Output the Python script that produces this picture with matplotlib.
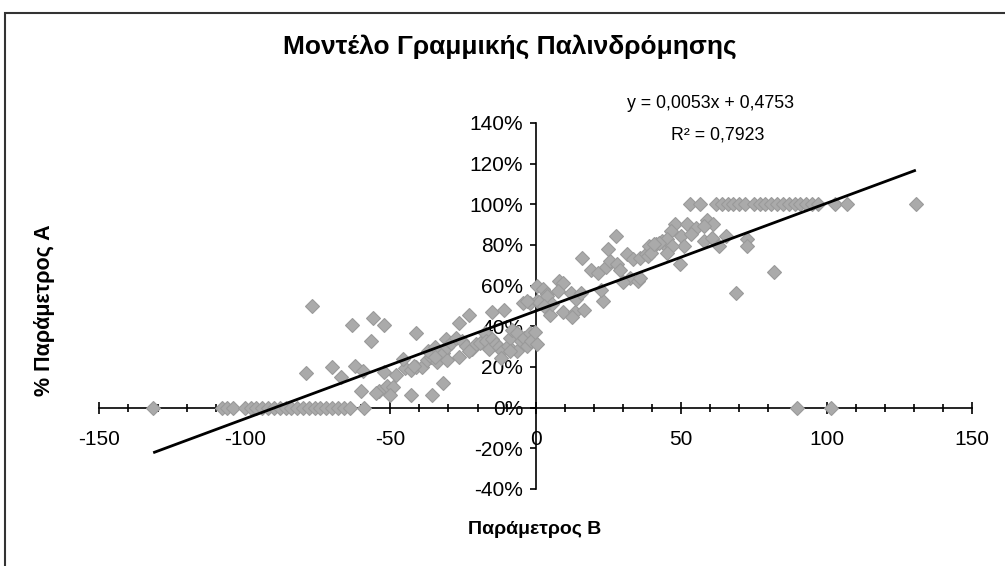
import matplotlib
matplotlib.use("Agg")
import matplotlib.pyplot as plt
from matplotlib.ticker import MultipleLocator, FuncFormatter
from matplotlib.patches import Rectangle

plt.rcParams['font.family'] = ['Liberation Sans', 'DejaVu Sans']
plt.rcParams['axes.unicode_minus'] = False

# points lying on the 0% line
zero_x = [-131.5, -108, -106, -104, -100, -98, -96, -94, -92, -90, -88, -86, -84,
          -82, -80, -78, -76, -74, -72, -70, -68, -66, -64, -59, 90, 101.5]
# points lying on the 100% line
full_x = [53, 56.5, 62, 64, 66, 68, 70, 72, 75, 77, 79, 81, 83, 85, 87, 89, 91,
          93, 95, 97, 103, 107, 130.7]

# the rest of the cloud (x, % of A)
cloud_x = [-77, -63, -56, -52, -56.5, -41, -79, -70, -67, -62, -59.5, -60, -54, -51,
           -49, -50, -43, -35.5, -32, -52, -48, -45, -45.5, -43, -41, -39, -37.5, -36,
           -34, -32, -31, -30.5, -55, -42,
           -37, -34.5, -30.5, -29, -27.5, -25.5, -24, -22, -20.5, -19, -17.5, -17, -16,
           -15, -13.5, -12.5, -11.5, -9.5, -9, -8, -6.5, -6.5, -5, -4, -3, -2, -1.5, 0.5,
           -26.5, -23, -15, -11, -4.5, -2, -26.5, -23, -12, -34.5, -9,
           0.5, 2.5, 4, 5, 8, 9.5, 9.5, 12, 13.5, 12.5, 14, 15.5, 16.5, 7.5, 0.5, 4, 5.5,
           -0.3, 1, 3, -3,
           16, 19, 21.5, 24, 25.5, 28, 29, 31.5, 32.5, 33.5, 36, 38, 39, 41.5, 43.5, 45.5,
           35, 23, 25, 27.5, 22.5, 30, 36, 38.5, 39.5,
           48, 52, 55, 59, 61, 58, 46.5, 45, 42.5, 40.5, 50, 53.5, 51, 47, 45, 58, 60.5,
           63, 65.5, 72.5, 72.5, 49.5, 82, 69]
cloud_y = [50, 40.5, 44, 40.5, 33, 36.5, 17, 20, 15, 20.5, 18, 8, 8, 10.5,
           10, 6, 6, 6, 12, 17.5, 16, 19.5, 24, 18.5, 20, 20, 23.5, 25,
           22.5, 27, 34, 23.5, 7, 20.5,
           28, 30, 30, 32, 34.5, 33, 30.5, 29, 31.5, 32, 36.5, 33, 29,
           34, 31.5, 30, 28, 30.5, 34.5, 38, 36.5, 28, 33, 34.5, 30.5, 36.5, 33, 31.5,
           41.5, 45.5, 47, 48, 51.5, 51.5, 25, 28, 24.5, 25, 28,
           60, 58.5, 56, 45.5, 62.5, 61.5, 47, 56.5, 47, 44.5, 53.5, 56.5, 48, 57.5, 52.5, 55, 51,
           37, 52, 50, 52.5,
           73.5, 67.5, 66, 69, 72, 70.5, 67.5, 75.5, 64, 73, 73.5, 75.5, 79.5, 80.5, 82, 78.5,
           62.5, 52.5, 78, 84.5, 58, 62, 64, 74.5, 76,
           90.5, 90.5, 88.5, 92.5, 90.5, 89.5, 87, 83, 81, 80.5, 84.5, 85.5, 79.5, 79.5, 76, 82, 83.5,
           79.5, 84.5, 83, 79.5, 70.5, 66.5, 56.5]

slope = 0.0053
intercept = 0.4753

xs = zero_x + full_x + cloud_x
ys = [0.0] * len(zero_x) + [1.0] * len(full_x) + [v / 100 for v in cloud_y]

fig = plt.figure(figsize=(10.05, 5.66), dpi=100)
ax = fig.add_axes([99.4 / 1005, 77 / 566, 872.6 / 1005, 366 / 566])
ax.set_facecolor('none')

ax.plot(xs, ys, 'D', ms=6.7, mfc='#aaaaaa', mec='#9a9a9a', mew=0.8, zorder=3,
        clip_on=False)

# trend line over the data range
x0, x1 = min(xs), max(xs)
ax.plot([x0, x1], [slope * x0 + intercept, slope * x1 + intercept], color='black',
        lw=2, zorder=4, solid_capstyle='butt')

ax.set_xlim(-150, 150)
ax.set_ylim(-0.4, 1.4)
ax.spines['left'].set_position(('data', 0))
ax.spines['bottom'].set_position(('data', 0))
ax.spines['top'].set_visible(False)
ax.spines['right'].set_visible(False)
for s in ('left', 'bottom'):
    ax.spines[s].set_linewidth(1.2)

ax.xaxis.set_major_locator(MultipleLocator(50))
ax.xaxis.set_minor_locator(MultipleLocator(10))
ax.yaxis.set_major_locator(MultipleLocator(0.2))
ax.yaxis.set_major_formatter(FuncFormatter(lambda v, _: f"{round(v * 100):d}%"))

ax.tick_params(axis='x', which='major', direction='inout', length=8, width=1.2,
               pad=12, labelsize=15)
ax.tick_params(axis='x', which='minor', direction='inout', length=6, width=1.2)
ax.tick_params(axis='y', which='major', direction='out', length=4, width=1.2,
               pad=5, labelsize=15)

fig.text(510 / 1005, 1 - 47 / 566, 'Μοντέλο Γραμμικής Παλινδρόμησης', ha='center',
         va='center', fontsize=19, fontweight='bold')
fig.text(710 / 1005, 1 - 103 / 566, 'y = 0,0053x + 0,4753', ha='center', va='center',
         fontsize=12.8)
fig.text(718 / 1005, 1 - 135 / 566, 'R² = 0,7923', ha='center', va='center',
         fontsize=12.8)
fig.text(535 / 1005, 1 - 530 / 566, 'Παράμετρος Β', ha='center', va='center',
         fontsize=14, fontweight='bold')
fig.text(45 / 1005, 1 - 310 / 566, '% Παράμετρος Α', ha='center', va='center',
         rotation=90, fontsize=15.5, fontweight='bold')

# chart border (only top and left edges are inside the picture)
fig.patches.append(Rectangle((5 / 1005, -0.1), 1.2, 1.1 - 13 / 566,
                             transform=fig.transFigure, fill=False,
                             edgecolor='#333333', lw=1.5))

fig.savefig('out.png', dpi=100)
